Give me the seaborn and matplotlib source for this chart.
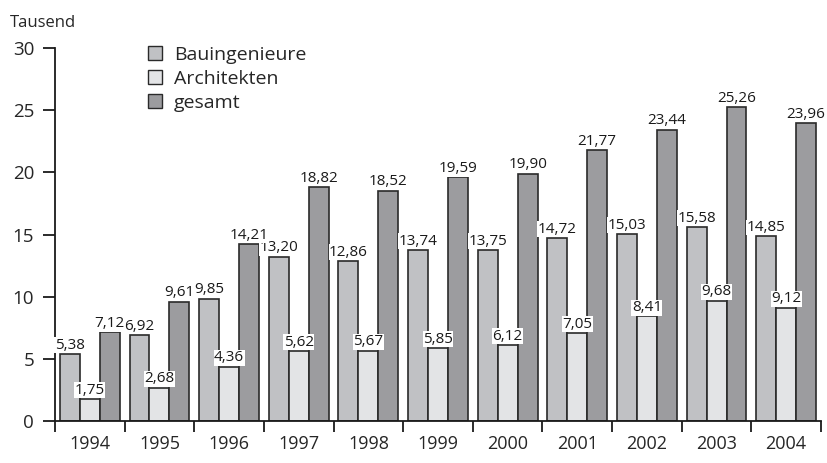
import matplotlib.pyplot as plt
import numpy as np
import pandas as pd
import seaborn as sns

years = ["1994", "1995", "1996", "1997", "1998", "1999", "2000", "2001", "2002", "2003", "2004"]
bauingenieure = [5.38, 6.92, 9.85, 13.20, 12.86, 13.74, 13.75, 14.72, 15.03, 15.58, 14.85]
architekten = [1.75, 2.68, 4.36, 5.62, 5.67, 5.85, 6.12, 7.05, 8.41, 9.68, 9.12]
gesamt = [7.12, 9.61, 14.21, 18.82, 18.52, 19.59, 19.90, 21.77, 23.44, 25.26, 23.96]
series = ["Bauingenieure", "Architekten", "gesamt"]
colors = ["#c0c1c4", "#e3e4e6", "#9b9ca0"]

df = pd.DataFrame({
    "year": years * 3,
    "value": bauingenieure + architekten + gesamt,
    "series": np.repeat(series, len(years)),
})

sns.set_style("white")
plt.rcParams["font.family"] = ["Open Sans", "DejaVu Sans"]

fig = plt.figure(figsize=(8.27, 4.63), dpi=100)
ax = fig.add_axes([55 / 827, 42 / 463, 766 / 827, 373 / 463])

sns.barplot(data=df, x="year", y="value", hue="series", palette=colors,
            width=0.86, edgecolor="#2a2a2a", linewidth=1.2, ax=ax,
            legend=True)

for cont in ax.containers:
    labels = [f"{v:.2f}".replace(".", ",") for v in cont.datavalues]
    ax.bar_label(cont, labels=labels, padding=1, fontsize=11, color="#1a1a1a",
                 bbox=dict(facecolor="white", edgecolor="none", pad=0.3))

ax.set_xlim(-0.5, len(years) - 0.5)
ax.set_ylim(0, 30)
ax.set_yticks([0, 5, 10, 15, 20, 25, 30])
ax.set_xlabel("")
ax.set_ylabel("")
ax.set_xticks(np.arange(-0.5, len(years), 1), minor=True)
ax.tick_params(axis="x", which="major", bottom=True, length=0, labelsize=13, pad=10)
ax.tick_params(axis="x", which="minor", bottom=True, length=8, width=1.3,
               direction="out", color="#1a1a1a")
ax.tick_params(axis="y", left=True, length=9, width=1.3, direction="out",
               labelsize=13.5, color="#1a1a1a", pad=6)
sns.despine(ax=ax)
for s in ["left", "bottom"]:
    ax.spines[s].set_linewidth(1.3)
    ax.spines[s].set_color("#1a1a1a")

leg = ax.legend(loc="upper left", bbox_to_anchor=(0.098, 1.052), frameon=False, fontsize=14,
                handlelength=0.75, handleheight=0.75, handletextpad=0.6, labelspacing=0.3)
for h in leg.legend_handles:
    h.set_edgecolor("#2a2a2a")
    h.set_linewidth(1.0)

fig.text(10 / 827, 1 - 23 / 463, "Tausend", fontsize=12, va="center", ha="left")

fig.savefig("out.png", dpi=100)
